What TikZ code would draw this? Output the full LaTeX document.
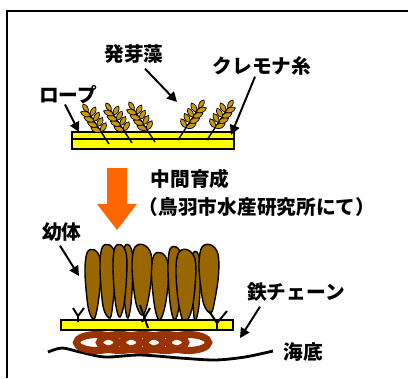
\documentclass[tikz,border=0pt]{standalone}
\usepackage{fontspec}
\setmainfont{Noto Sans CJK JP}
\usetikzlibrary{arrows.meta,calc}
\definecolor{ropeyel}{RGB}{255,255,0}
\definecolor{kelp}{RGB}{153,102,0}
\definecolor{bud}{RGB}{204,153,0}
\definecolor{chainbr}{RGB}{153,51,0}
\definecolor{flow}{RGB}{255,102,0}

% one blade: centre x, top y, bottom y, half width, tip x
\newcommand\kelpblade[5]{%
  \filldraw[blade] plot[smooth cycle,tension=0.6] coordinates {(#5,#3) (#1-0.5*#4,#3-8) (#1-0.85*#4,#3-28) (#1-#4,#2+18) (#1-0.7*#4,#2+2) (#1+0.2*#4,#2) (#1+0.9*#4,#2+9) (#1+0.95*#4,#2+30) (#1+0.6*#4,#3-14)};}

\begin{document}
\begin{tikzpicture}[x=0.025cm,y=-0.025cm,font=\fontsize{14}{16}\selectfont\bfseries]
\tikzset{lbl/.style={inner sep=0pt},arr/.style={-{Triangle[length=7pt,width=7pt]},line width=1.4pt},
  ropebox/.style={fill=ropeyel,draw=black,line width=1pt},blade/.style={fill=kelp,draw=black,line width=1pt},
  link/.style={draw=chainbr,line width=5pt},leaf/.style={fill=bud,draw=black,line width=0.5pt},
  sprout/.pic={
    \draw[line width=1pt] (0,0) -- (-23,-35);
    \foreach \t in {0.35,0.5,0.65,0.8} {
      \filldraw[leaf] ({-23*\t},{-35*\t}) to[bend left=55] ++(-10,-4) to[bend left=55] ({-23*\t},{-35*\t});
      \filldraw[leaf] ({-23*\t},{-35*\t}) to[bend left=55] ++(5,-9) to[bend left=55] ({-23*\t},{-35*\t});}
    \filldraw[leaf] (-21,-32) to[bend left=55] ++(-5,-8) to[bend left=55] (-21,-32);}}
\useasboundingbox (0,0) rectangle (408,378);
\draw[line width=1.1pt] (7,378) -- (7,11) -- (408,11);

% rope with germlings
\filldraw[ropebox] (72,132) rectangle (234,149);
\draw[line width=1pt] (72,139) -- (234,139);
\pic at (109,144) {sprout};
\pic at (132,143) {sprout};
\pic at (155,142) {sprout};
\pic[xscale=-1] at (178,140) {sprout};
\pic[xscale=-1] at (207,140) {sprout};

\node[lbl] (lHatsuga) at (134,54) {発芽藻};
\node[lbl] (lCremona) at (262,66) {クレモナ糸};
\node[lbl] (lRope) at (68,95) {ロープ};
\coordinate (tRope) at (79,132);
\coordinate (tBud) at (177,102);
\coordinate (tThread) at (231,135);
\draw[arr] ($(lRope.south)+(-3,0)$) -- (tRope);
\draw[arr] ($(lHatsuga.south)+(11,5)$) -- (tBud);
\draw[arr] ($(lCremona.south)+(-7,1)$) -- (tThread);

% nursery step
\fill[flow] (107,168) -- (127,168) -- (127,204) -- (137,204) -- (117,230) -- (97,204) -- (107,204) -- cycle;
\node[lbl] (lMid) at (190,179) {中間育成};
\node[lbl] (lPlace) at (257,207) {（鳥羽市水産研究所にて）};

% seabed and chain
\draw[line width=2pt] plot[smooth] coordinates {(48,352) (62,348) (80,352) (105,357) (140,355) (180,358) (215,360) (245,357) (273,351)};
\foreach \cx in {97,119.8,...,211}
  \draw[link] (\cx,342.5) ellipse [x radius=20.5,y radius=8];

% young plants
\kelpblade{128}{245}{318}{5}{128}
\kelpblade{196}{252}{322}{4.5}{195}
\kelpblade{93}{250}{319}{8}{94}
\kelpblade{108}{245}{318}{8}{110}
\kelpblade{120}{245}{317}{7}{120}
\kelpblade{142}{245}{315}{10}{143}
\kelpblade{160}{253}{320}{8.5}{160}
\kelpblade{175}{247}{320}{7}{175}
\kelpblade{186}{250}{323}{10}{185}
\kelpblade{209}{245}{313}{10}{211}
\filldraw[ropebox] (61,320) rectangle (233,330);
\draw[line width=1.4pt] (73,308) -- (78,316) -- (84,308) (78,316) -- (78,322);
\draw[line width=1.4pt] (140,305) -- (148,328) (150,308) -- (142,322);
\draw[line width=1.4pt] (209,311) -- (217,323) -- (227,311) (217,323) -- (217,329);

\node[lbl] (lYoutai) at (62,232) {幼体};
\node[lbl] (lChain) at (296,292) {鉄チェーン};
\node[lbl] (lSeabed) at (303,352) {海底};
\coordinate (tYoung) at (79,276);
\coordinate (tChain) at (240,338);
\draw[arr] ($(lYoutai.south)+(-2,4)$) -- (tYoung);
\draw[arr] ($(lChain.south west)+(13,5)$) -- (tChain);
\end{tikzpicture}
\end{document}
